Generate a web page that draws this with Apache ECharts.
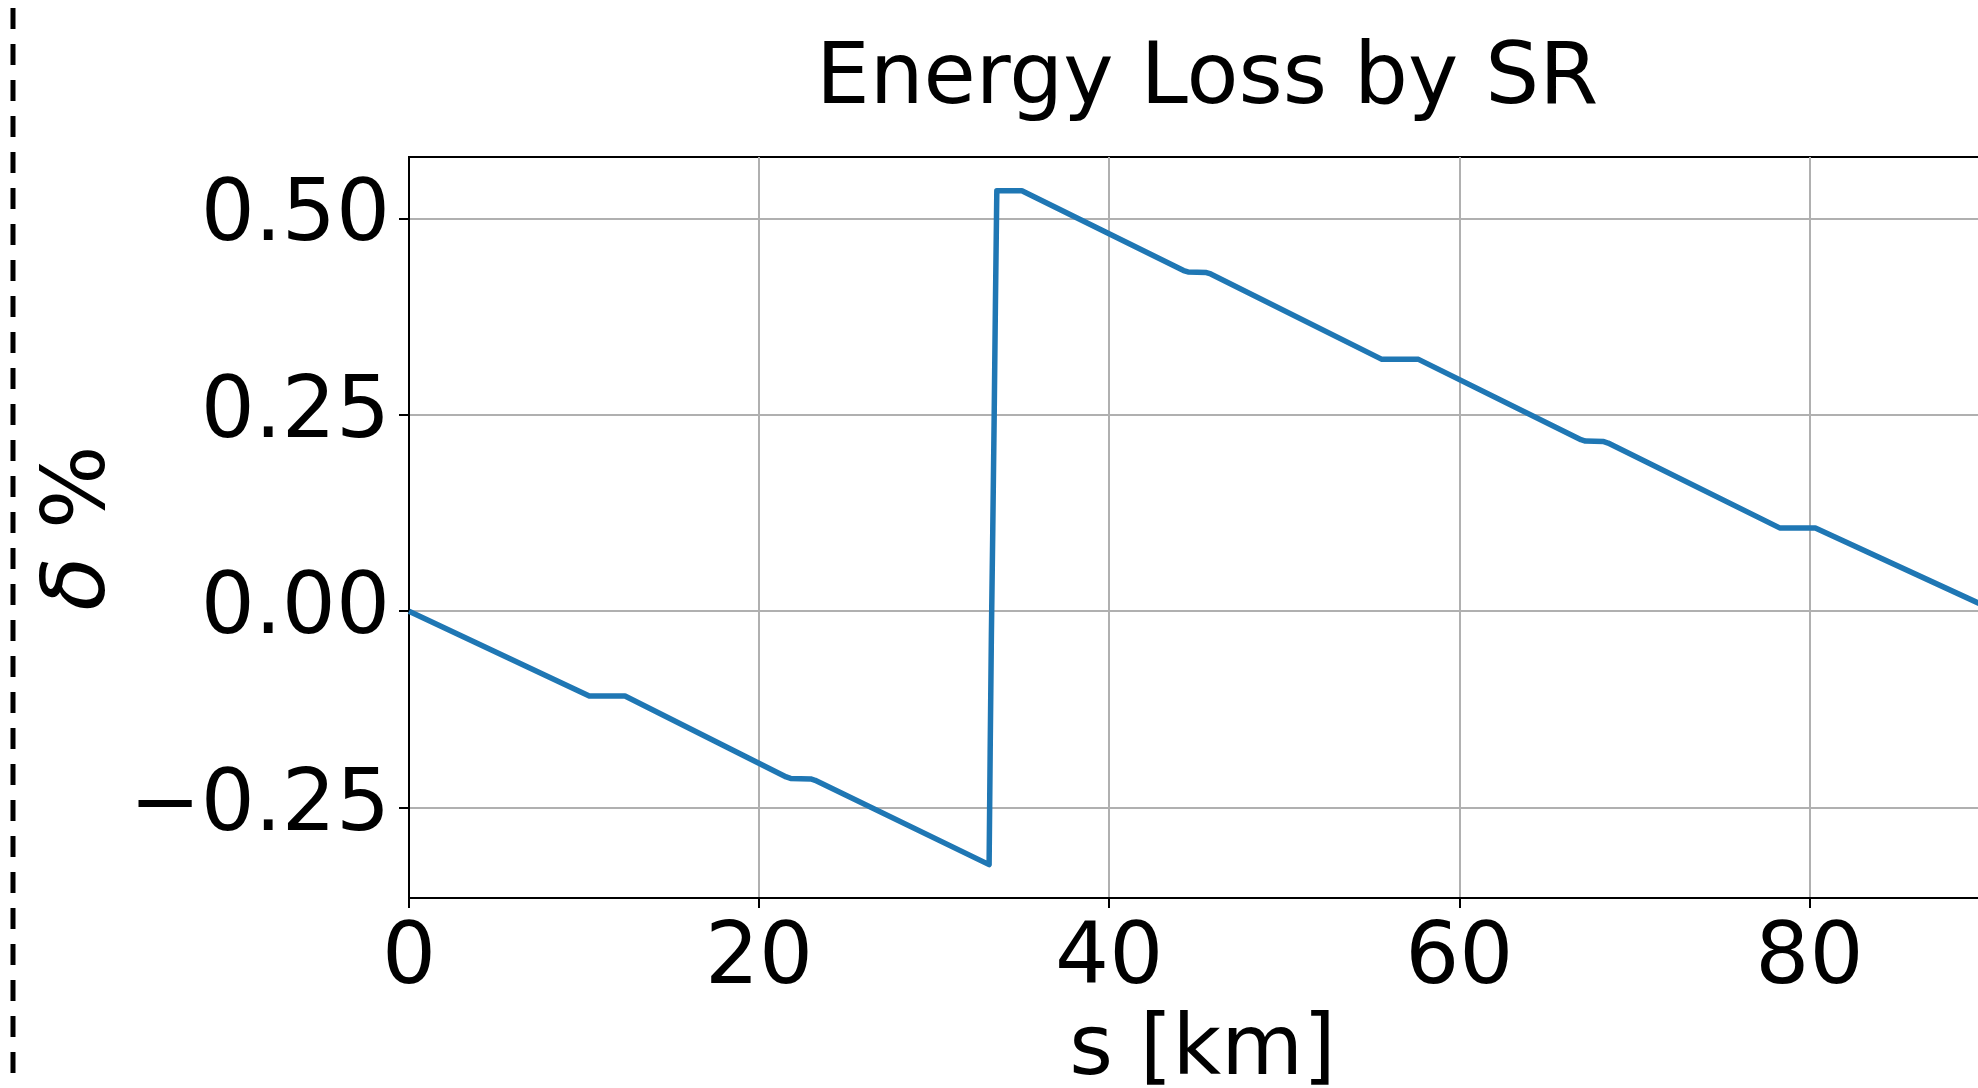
<!DOCTYPE html>
<html>
<head>
<meta charset="utf-8">
<script src="https://cdn.jsdelivr.net/npm/echarts@6/dist/echarts.min.js"></script>
<style>
html,body{margin:0;padding:0;background:#fff;}
#chart{width:1978px;height:1088px;}
</style>
</head>
<body>
<div id="chart"></div>
<script>
// position along the ring, km
const s = [0, 10.30, 12.34, 21.55, 21.80, 22.95, 23.20, 33.14, 33.20, 33.20, 33.27, 33.27, 33.35, 33.35, 33.43, 33.43, 33.50, 33.50, 33.58, 33.58, 35.01, 44.25, 44.50, 45.55, 45.80, 55.58, 57.67, 66.95, 67.20, 68.25, 68.50, 78.30, 80.34, 90.66];
// relative energy deviation, %
const delta = [0, -0.108, -0.108, -0.2110, -0.2128, -0.2135, -0.2152, -0.3225, -0.3210, -0.180, -0.179, -0.030, -0.029, 0.105, 0.106, 0.249, 0.250, 0.390, 0.391, 0.535, 0.535, 0.4335, 0.4318, 0.4310, 0.4292, 0.3205, 0.3205, 0.2182, 0.2165, 0.2158, 0.2140, 0.106, 0.106, 0];
const xTicks = [0, 20, 40, 60, 80];
const yTicks = [-0.25, 0, 0.25, 0.5];
const titleText = 'Energy Loss by SR';
const xName = 's [km]';
const yName = '{i|δ} %';

const points = s.map((v, i) => [v, delta[i]]);
const font = 'DejaVu Sans';
const chart = echarts.init(document.getElementById('chart'), null, {renderer: 'canvas'});
chart.setOption({
  animation: false,
  backgroundColor: '#ffffff',
  title: {
    text: titleText,
    left: 816,
    top: 38,
    padding: 0,
    textStyle: {fontFamily: font, fontSize: 85, fontWeight: 'normal', color: '#000'}
  },
  grid: {
    left: 409, top: 157, width: 1587, height: 741,
    outerBoundsMode: 'none',
    show: true, borderColor: '#000', borderWidth: 2, backgroundColor: 'transparent',
    containLabel: false
  },
  xAxis: {
    type: 'value', min: 0, max: 90.66,
    name: xName, nameLocation: 'middle', nameGap: 112,
    nameTextStyle: {fontFamily: font, fontSize: 84, color: '#000'},
    axisLine: {show: true, onZero: false, lineStyle: {color: '#000', width: 2}},
    axisTick: {show: true, length: 10, lineStyle: {color: '#000', width: 2}, customValues: xTicks},
    axisLabel: {fontFamily: font, fontSize: 85, color: '#000', margin: 20, customValues: xTicks,
      formatter: v => String(v)},
    splitLine: {show: true, lineStyle: {color: '#b0b0b0', width: 2}}
  },
  yAxis: {
    type: 'value', min: -0.365, max: 0.578,
    axisLine: {show: true, onZero: false, lineStyle: {color: '#000', width: 2}},
    axisTick: {show: true, length: 10, lineStyle: {color: '#000', width: 2}, customValues: yTicks},
    axisLabel: {fontFamily: font, fontSize: 85, color: '#000', margin: 19, customValues: yTicks,
      padding: [20, 0, 0, 0],
      formatter: v => (v < 0 ? '\u2212' : '') + Math.abs(v).toFixed(2)},
    splitLine: {show: true, lineStyle: {color: '#b0b0b0', width: 2}}
  },
  graphic: [{
    type: 'line', silent: true,
    shape: {x1: 13, y1: 0, x2: 13, y2: 1088},
    style: {stroke: '#000', lineWidth: 5, lineDash: [21, 15], lineDashOffset: -8}
  }, {
    type: 'text', silent: true,
    x: 81, y: 528, rotation: Math.PI / 2,
    style: {
      text: yName, fontFamily: font, fontSize: 88, fill: '#000',
      align: 'center', verticalAlign: 'middle',
      rich: {i: {fontFamily: font, fontSize: 88, fontStyle: 'italic', fill: '#000'}}
    }
  }],
  series: [{
    type: 'line', data: points, showSymbol: false, symbol: 'none',
    lineStyle: {color: '#1f77b4', width: 5.5, join: 'round'},
    clip: true
  }]
});
</script>
</body>
</html>
